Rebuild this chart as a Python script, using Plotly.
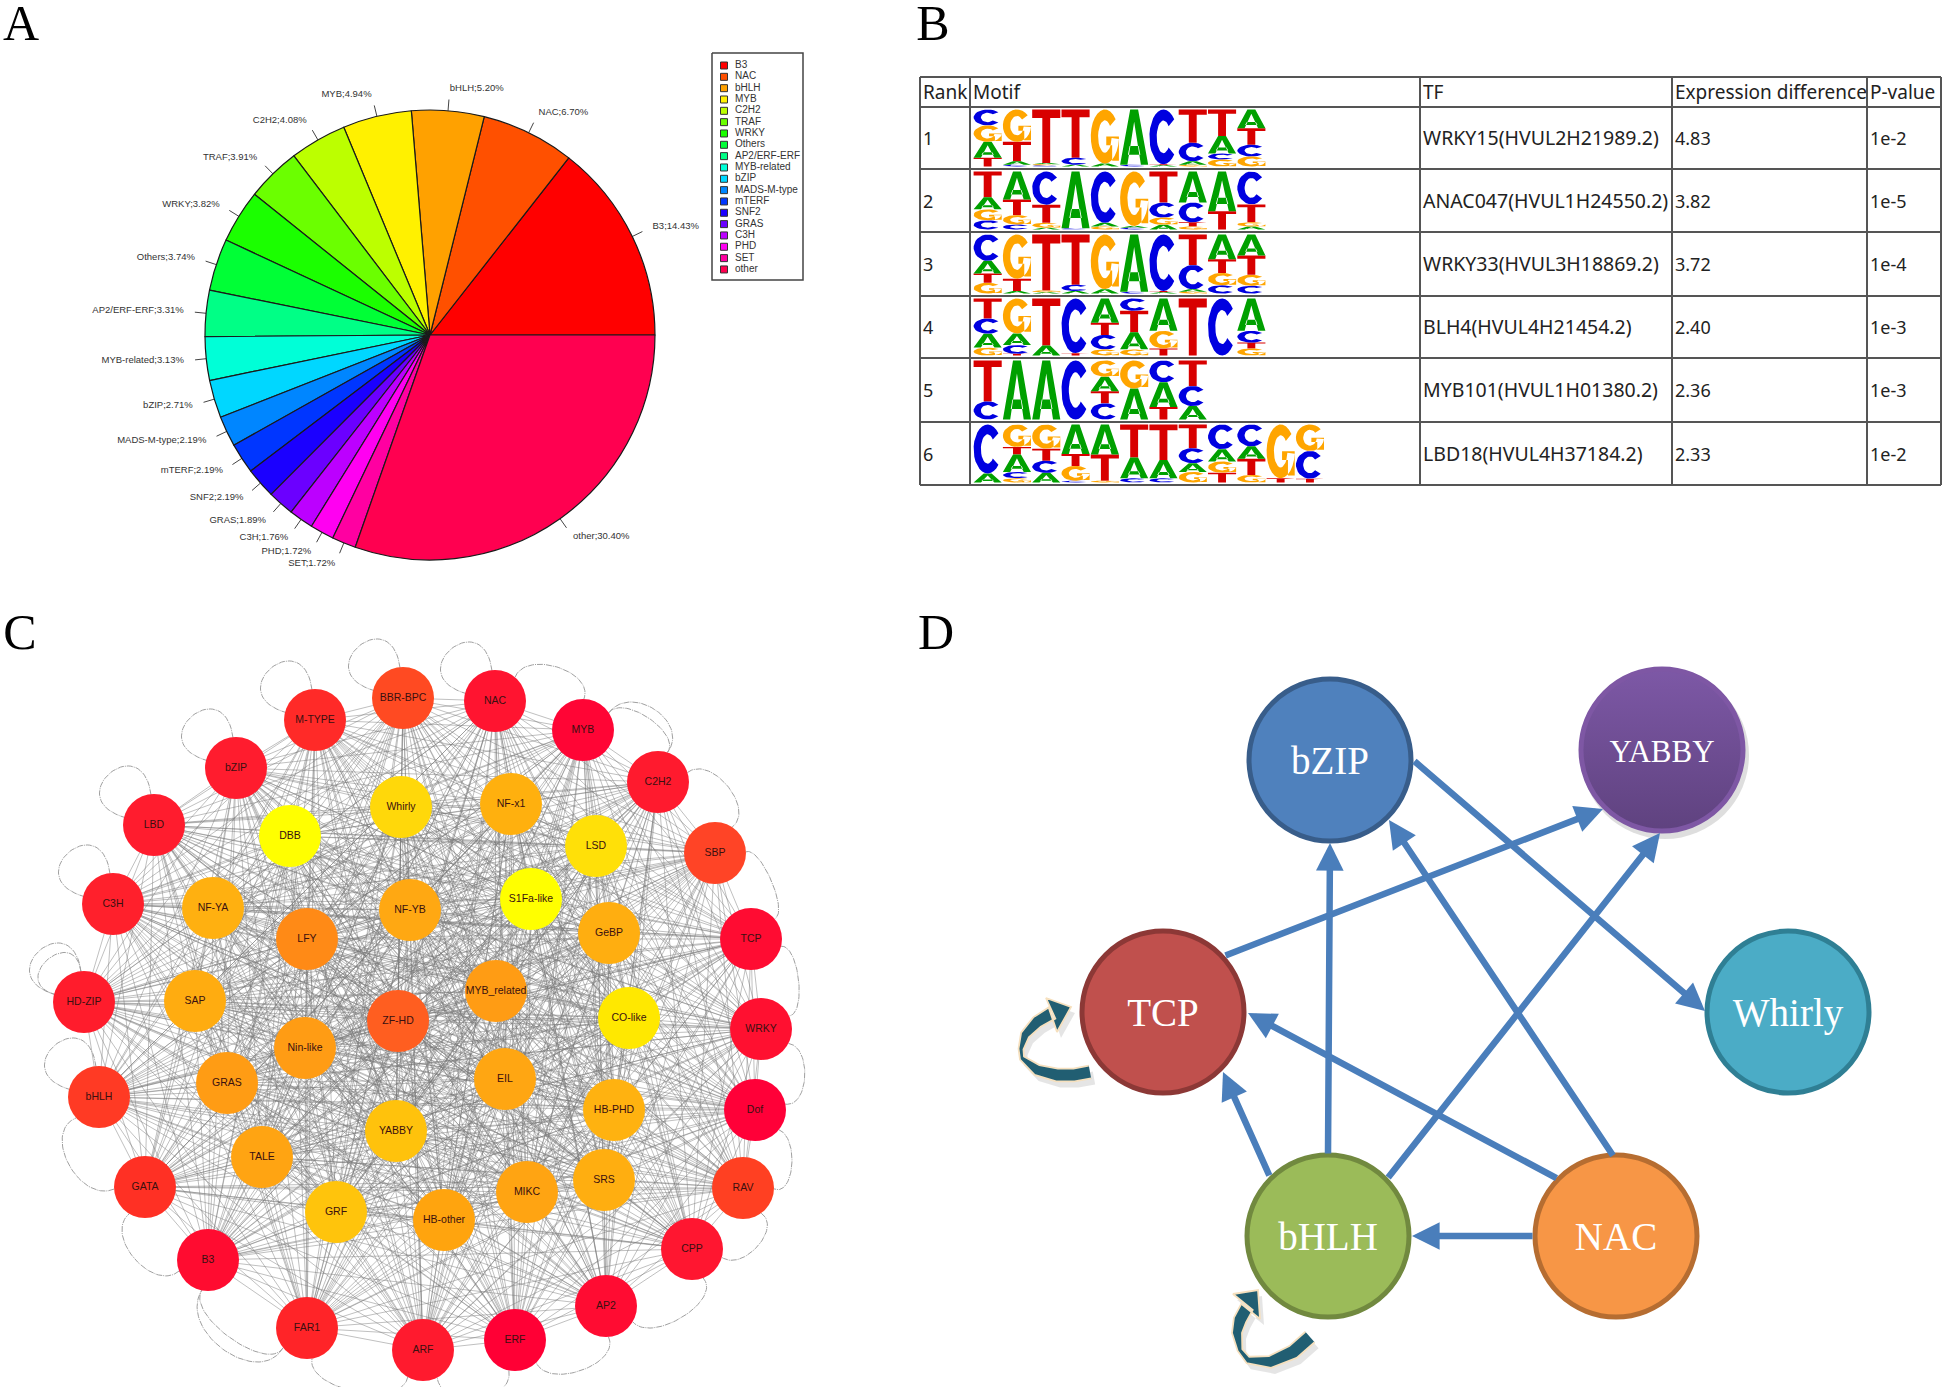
import numpy as np
import plotly.graph_objects as go

W, H = 1944, 1387

# ---------- panel letters ----------
panel_letters = ["A", "B", "C", "D"]
panel_x = [21, 933, 20, 936]
panel_y = [27, 27, 636, 636]

# ---------- panel A: pie ----------
pie_names = ["B3", "NAC", "bHLH", "MYB", "C2H2", "TRAF", "WRKY", "Others", "AP2/ERF-ERF", "MYB-related",
             "bZIP", "MADS-M-type", "mTERF", "SNF2", "GRAS", "C3H", "PHD", "SET", "other"]
pie_values = [14.43, 6.70, 5.20, 4.94, 4.08, 3.91, 3.82, 3.74, 3.31, 3.13,
              2.71, 2.19, 2.19, 2.19, 1.89, 1.76, 1.72, 1.72, 30.40]
pie_colors = ["#FF0000", "#FF5000", "#FFA100", "#FFF100", "#BCFF00", "#6BFF00", "#1BFF00", "#00FF36",
              "#00FF86", "#00FFD7", "#00D7FF", "#0086FF", "#0036FF", "#1B00FF", "#6B00FF", "#BC00FF",
              "#FF00F1", "#FF00A1", "#FF0050"]
pie_cx, pie_cy, pie_r = 430, 335, 225

# ---------- panel B: table ----------
table_header = ["Rank", "Motif", "TF", "Expression difference", "P-value"]
table_rank = ["1", "2", "3", "4", "5", "6"]
table_tf = ["WRKY15(HVUL2H21989.2)", "ANAC047(HVUL1H24550.2)", "WRKY33(HVUL3H18869.2)",
            "BLH4(HVUL4H21454.2)", "MYB101(HVUL1H01380.2)", "LBD18(HVUL4H37184.2)"]
table_diff = ["4.83", "3.82", "3.72", "2.40", "2.36", "2.33"]
table_p = ["1e-2", "1e-5", "1e-4", "1e-3", "1e-3", "1e-2"]
col_edges = [920, 970, 1420, 1672, 1867, 1941]
row_edges = [77, 107, 169, 232, 296, 358, 422, 485]

logo_rows = [
    [[("C", .27), ("G", .28), ("A", .27), ("T", .15)],
     [("G", .55), ("T", .33), ("A", .06), ("C", .03)],
     [("T", .93), ("A", .02), ("G", .02), ("C", .02)],
     [("T", .82), ("C", .12), ("A", .03)],
     [("G", .92), ("A", .05)],
     [("A", .93), ("C", .03)],
     [("C", .95), ("T", .02), ("A", .02)],
     [("T", .57), ("C", .32), ("A", .06), ("G", .03)],
     [("T", .45), ("A", .3), ("C", .1), ("G", .12)],
     [("A", .32), ("T", .28), ("C", .2), ("G", .17)]],
    [[("T", .42), ("A", .2), ("G", .18), ("C", .15)],
     [("A", .45), ("T", .25), ("G", .15), ("C", .08)],
     [("C", .55), ("T", .3), ("G", .08), ("A", .03)],
     [("A", .95), ("C", .02)],
     [("C", .85), ("A", .06), ("G", .05)],
     [("G", .92), ("A", .03), ("C", .03)],
     [("T", .52), ("C", .25), ("G", .12), ("A", .08)],
     [("A", .52), ("C", .33), ("T", .07), ("G", .05)],
     [("A", .65), ("T", .3)],
     [("C", .55), ("T", .3), ("G", .07), ("A", .05)]],
    [[("C", .42), ("A", .2), ("T", .15), ("G", .17)],
     [("G", .72), ("T", .2), ("A", .04)],
     [("T", .9), ("G", .03), ("A", .02)],
     [("T", .8), ("C", .1), ("A", .04)],
     [("G", .88), ("A", .07)],
     [("A", .92), ("C", .03)],
     [("C", .95), ("T", .02), ("A", .02)],
     [("T", .5), ("C", .4), ("A", .04), ("G", .03)],
     [("A", .36), ("T", .2), ("G", .18), ("C", .12)],
     [("A", .35), ("T", .32), ("G", .18), ("C", .13)]],
    [[("T", .33), ("C", .25), ("A", .23), ("G", .13)],
     [("G", .6), ("A", .2), ("C", .15), ("T", .03)],
     [("T", .8), ("A", .17)],
     [("C", .92), ("T", .04)],
     [("A", .4), ("T", .2), ("C", .24), ("G", .1)],
     [("C", .2), ("T", .35), ("A", .28), ("G", .1)],
     [("A", .55), ("G", .3), ("T", .12)],
     [("T", .97)],
     [("C", .97)],
     [("A", .55), ("C", .2), ("T", .1), ("G", .12)]],
    [[("T", .68), ("C", .3)],
     [("A", .97)],
     [("A", .97)],
     [("C", .97)],
     [("G", .27), ("A", .24), ("T", .2), ("C", .27)],
     [("G", .45), ("A", .5)],
     [("C", .35), ("A", .4), ("T", .2)],
     [("T", .42), ("C", .33), ("A", .22)]],
    [[("C", .82), ("A", .15)],
     [("G", .36), ("T", .12), ("A", .28), ("C", .1), ("G", .07)],
     [("G", .4), ("T", .2), ("C", .2), ("A", .16)],
     [("A", .5), ("T", .2), ("G", .25), ("C", .03)],
     [("A", .5), ("T", .44), ("G", .03)],
     [("T", .55), ("A", .35), ("C", .07)],
     [("T", .58), ("A", .3), ("C", .07)],
     [("T", .38), ("C", .24), ("A", .14), ("G", .17)],
     [("C", .4), ("A", .2), ("G", .18), ("T", .16)],
     [("C", .35), ("A", .2), ("T", .26), ("G", .12)],
     [("G", .88), ("T", .07)],
     [("G", .42), ("C", .44), ("T", .06)]],
]
logo_colors = {"A": "#00A000", "C": "#0000E0", "G": "#FFA500", "T": "#D80000"}
logo_x0, logo_col_w = 973, 29.3

# ---------- panel C: network ----------
outer_names = ["BBR-BPC", "NAC", "MYB", "C2H2", "SBP", "TCP", "WRKY", "Dof", "RAV", "CPP", "AP2", "ERF", "ARF",
               "FAR1", "B3", "GATA", "bHLH", "HD-ZIP", "C3H", "LBD", "bZIP", "M-TYPE"]
outer_x = [403, 495, 583, 658, 715, 751, 761, 755, 743, 692, 606, 515, 423, 307, 208, 145, 99, 84, 113, 154, 236, 315]
outer_y = [698, 701, 730, 782, 853, 939, 1029, 1110, 1188, 1249, 1306, 1340, 1350, 1328, 1260, 1187, 1097, 1002, 904, 825, 768, 720]
outer_colors = ["#FF4A22", "#FF1430", "#FF0535", "#FF1A2E", "#FF4426", "#FF0C32", "#FF1030", "#FF0038", "#FF4022",
                "#FF1630", "#FF0C32", "#FF0035", "#FF1A2E", "#FF2428", "#FF0C30", "#FF3024", "#FF3A24", "#FF1C2C",
                "#FF202C", "#FF1C2E", "#FF1C2E", "#FF2A28"]
inner_names = ["DBB", "Whirly", "NF-x1", "LSD", "S1Fa-like", "GeBP", "NF-YB", "NF-YA", "LFY", "MYB_related", "CO-like",
               "SAP", "ZF-HD", "Nin-like", "GRAS", "EIL", "HB-PHD", "YABBY", "TALE", "SRS", "MIKC", "HB-other", "GRF"]
inner_x = [290, 401, 511, 596, 531, 609, 410, 213, 307, 496, 629, 195, 398, 305, 227, 505, 614, 396, 262, 604, 527, 444, 336]
inner_y = [836, 807, 804, 846, 899, 933, 910, 908, 939, 991, 1018, 1001, 1021, 1048, 1083, 1079, 1110, 1131, 1157, 1180, 1192, 1220, 1212]
inner_colors = ["#FFFF00", "#FFD80A", "#FFB00E", "#FFE008", "#FFFF00", "#FFAE10", "#FFA812", "#FFB010", "#FF8A16",
                "#FF9C14", "#FFE800", "#FFAC10", "#FF5E20", "#FF9C14", "#FF9C14", "#FFA612", "#FFB210", "#FFC20C",
                "#FFA412", "#FFAE10", "#FFA412", "#FFA40E", "#FFC40C"]
net_cx, net_cy = 422, 1017
self_loops = [("BBR-BPC", 1.0), ("NAC", 1.0), ("M-TYPE", 1.0), ("bZIP", 1.0), ("LBD", 1.0), ("C3H", 1.0),
              ("HD-ZIP", 1.0), ("HD-ZIP", 0.72), ("bHLH", 1.0)]
neighbour_arcs = [("NAC", "MYB", 30), ("MYB", "C2H2", 38), ("MYB", "C2H2", 24), ("C2H2", "SBP", 30), ("SBP", "TCP", 16),
                  ("TCP", "WRKY", 18), ("WRKY", "Dof", 24), ("Dof", "RAV", 22), ("RAV", "CPP", 26), ("CPP", "AP2", 30),
                  ("AP2", "ERF", 30), ("ERF", "ARF", 34), ("ARF", "FAR1", 32), ("FAR1", "B3", 48), ("FAR1", "B3", 30),
                  ("B3", "GATA", 34), ("GATA", "bHLH", 38)]

# ---------- panel D: TF graph ----------
d_names = ["bZIP", "YABBY", "Whirly", "TCP", "bHLH", "NAC"]
d_x = [1330, 1662, 1788, 1163, 1328, 1616]
d_y = [760, 750, 1012, 1012, 1236, 1236]
d_fill = ["#4F81BD", "#7D58A6", "#4BACC6", "#C0504D", "#9BBB59", "#F79646"]
d_line = ["#385D8A", "#7E57A4", "#2F7F94", "#8C3836", "#71893F", "#B66D31"]
d_font = [39, 31, 39, 39, 39, 39]
arrow_from = [(1413, 760), (1224, 956), (1328, 1155), (1614, 1157), (1387, 1179), (1558, 1179), (1270, 1177), (1534, 1236)]
arrow_to = [(1705, 1011), (1603, 809), (1330, 843), (1389, 820), (1660, 833), (1248, 1013), (1223, 1072), (1412, 1236)]
curl_centre = [[(1090, 1072), (1074, 1075), (1057, 1075), (1037, 1070), (1022, 1058), (1021, 1049), (1025, 1035), (1037, 1022), (1052, 1013)],
               [(1310, 1337), (1293, 1352), (1270, 1362), (1248, 1360), (1240, 1350), (1237, 1333), (1240, 1320), (1247, 1307)]]
curl_width = [[13, 13, 13, 11, 5, 5, 9, 12, 13],
              [14, 14, 12, 7, 5, 10, 13, 13]]
curl_head = [[(1046, 998), (1071, 1007), (1057, 1032)],
             [(1233, 1294), (1258, 1290), (1260, 1319)]]

fig = go.Figure()


def txt(x, y, t, size, color, pos="middle center", family="Liberation Sans"):
    fig.add_trace(go.Scatter(x=x, y=y, text=t, mode="text", textposition=pos, hoverinfo="skip", showlegend=False,
                             textfont=dict(size=size, color=color, family=family), cliponaxis=False))


def poly_line(xs, ys, color, width, dash="solid"):
    fig.add_trace(go.Scatter(x=xs, y=ys, mode="lines", line=dict(color=color, width=width, dash=dash),
                             hoverinfo="skip", showlegend=False))


def fill_poly(xs, ys, fill, edge="rgba(0,0,0,0)", width=0):
    fig.add_trace(go.Scatter(x=xs, y=ys, mode="lines", fill="toself", fillcolor=fill,
                             line=dict(color=edge, width=width), hoverinfo="skip", showlegend=False))


# --- A ---
vals = np.array(pie_values)
fig.add_trace(go.Pie(labels=pie_names, values=pie_values, sort=False, direction="counterclockwise",
                     rotation=90 - 360 * vals[0] / vals.sum(),
                     textinfo="none", showlegend=False, hoverinfo="label+value",
                     marker=dict(colors=pie_colors, line=dict(color="#1a1a1a", width=1.2)),
                     domain=dict(x=[(pie_cx - pie_r) / W, (pie_cx + pie_r) / W],
                                 y=[1 - (pie_cy + pie_r) / H, 1 - (pie_cy - pie_r) / H])))
mid = (np.cumsum(vals) - vals / 2) / vals.sum() * 2 * np.pi
tx, ty = [], []
for a in mid:
    tx += [pie_cx + pie_r * np.cos(a), pie_cx + 1.05 * pie_r * np.cos(a), None]
    ty += [pie_cy - pie_r * np.sin(a), pie_cy - 1.05 * pie_r * np.sin(a), None]
poly_line(tx, ty, "#444444", 1)
lab = [f"{n};{v:.2f}%" for n, v in zip(pie_names, pie_values)]
for a, t in zip(mid, lab):
    right = np.cos(a) >= 0
    txt([pie_cx + 1.1 * pie_r * np.cos(a)], [pie_cy - 1.1 * pie_r * np.sin(a)], [t], 9.5, "#333333",
        "middle right" if right else "middle left")

# legend of A
leg_y = [65.5 + 11.33 * i for i in range(len(pie_names))]
poly_line([712, 803, 803, 712, 712], [53, 53, 280, 280, 53], "#444444", 1.5)
fig.add_trace(go.Scatter(x=[724] * len(pie_names), y=leg_y, mode="markers", hoverinfo="skip", showlegend=False,
                         marker=dict(symbol="square", size=7, color=pie_colors, line=dict(color="#333333", width=1))))
txt([735] * len(pie_names), leg_y, pie_names, 10, "#333333", "middle right")

# --- B ---
gx, gy = [], []
for x in col_edges:
    gx += [x, x, None]
    gy += [row_edges[0], row_edges[-1], None]
for y in row_edges:
    gx += [col_edges[0], col_edges[-1], None]
    gy += [y, y, None]
poly_line(gx, gy, "#555555", 2)

hy = (row_edges[0] + row_edges[1]) / 2 + 2.5
txt([c + 3 for c in col_edges[:5]], [hy] * 5, table_header, 19, "#222222", "middle right", "Noto Sans")
ry = [(row_edges[i + 1] + row_edges[i + 2]) / 2 + 2.5 for i in range(6)]
txt([col_edges[0] + 3] * 6, ry, table_rank, 18, "#222222", "middle right", "Noto Sans")
txt([col_edges[2] + 3] * 6, ry, table_tf, 19.5, "#222222", "middle right", "Noto Sans")
txt([col_edges[3] + 3] * 6, ry, table_diff, 18, "#222222", "middle right", "Noto Sans")
txt([col_edges[4] + 3] * 6, ry, table_p, 18, "#222222", "middle right", "Noto Sans")


def arc(a0, a1, n=24):
    a = np.radians(np.linspace(a0, a1, n))
    ox, oy = .5 + .5 * np.cos(a), .5 + .5 * np.sin(a)
    ix, iy = .5 + .24 * np.cos(a[::-1]), .5 + .3 * np.sin(a[::-1])
    return list(zip(np.r_[ox, ix], np.r_[oy, iy]))


glyphs = {
    "T": [[(0, 1), (1, 1), (1, .84), (.64, .84), (.64, 0), (.36, 0), (.36, .84), (0, .84)]],
    "A": [[(0, 0), (.36, 1), (.64, 1), (1, 0), (.74, 0), (.5, .78), (.26, 0)],
          [(.28, .18), (.72, .18), (.66, .34), (.34, .34)]],
    "C": [arc(40, 320)],
    "G": [arc(40, 355), [(.55, .5), (1, .5), (1, .05), (.76, .05), (.76, .34), (.55, .34)]],
}
poly = {k: ([], []) for k in glyphs}
for r, columns in enumerate(logo_rows):
    top = row_edges[r + 1] + 2.5
    height = row_edges[r + 2] - row_edges[r + 1] - 5
    for c, stack in enumerate(columns):
        total = sum(h for _, h in stack)
        y = top
        for letter, h in stack:
            hh = h / total * height
            for pg in glyphs[letter]:
                for u, v in pg:
                    poly[letter][0].append(logo_x0 + (c + .02 + .96 * u) * logo_col_w)
                    poly[letter][1].append(y + (1 - v) * hh)
                poly[letter][0].append(None)
                poly[letter][1].append(None)
            y += hh
for letter, (px, py) in poly.items():
    fill_poly(px, py, logo_colors[letter])

# --- C ---
names = outer_names + inner_names
nx = outer_x + inner_x
ny = outer_y + inner_y
ex, ey = [], []
for i in range(len(nx)):
    for j in range(i + 1, len(nx)):
        ex += [nx[i], nx[j], None]
        ey += [ny[i], ny[j], None]
poly_line(ex, ey, "rgba(118,118,118,0.55)", 0.85)


def bez(p0, p1, p2, p3):
    t = np.linspace(0, 1, 40)[:, None]
    return (1 - t) ** 3 * p0 + 3 * (1 - t) ** 2 * t * p1 + 3 * (1 - t) * t ** 2 * p2 + t ** 3 * p3


lx, ly = [], []
u = np.array([-0.65, -0.76])
v = np.array([0.76, -0.65])
for name, scale in self_loops:
    i = names.index(name)
    c = np.array([nx[i], ny[i]], dtype=float)
    p0 = c + 30 * (u + .7 * v) / np.linalg.norm(u + .7 * v)
    p3 = c + 30 * (u - .7 * v) / np.linalg.norm(u - .7 * v)
    b = bez(p0, p0 + (u * 58 + v * 38) * scale, p3 + (u * 58 - v * 38) * scale, p3)
    lx += list(b[:, 0]) + [None]
    ly += list(b[:, 1]) + [None]
for n0, n1, h in neighbour_arcs:
    i, j = names.index(n0), names.index(n1)
    a = np.array([nx[i], ny[i]], dtype=float)
    d = np.array([nx[j], ny[j]], dtype=float)
    out = (a + d) / 2 - np.array([net_cx, net_cy])
    out /= np.linalg.norm(out)
    s = (d - a) / np.linalg.norm(d - a)
    p0 = a + 31 * (out + .35 * s) / np.linalg.norm(out + .35 * s)
    p3 = d + 31 * (out - .35 * s) / np.linalg.norm(out - .35 * s)
    b = bez(p0, p0 + out * h, p3 + out * h, p3)
    lx += list(b[:, 0]) + [None]
    ly += list(b[:, 1]) + [None]
poly_line(lx, ly, "#a0a0a0", 1, "6px,1px,1px,1px")

fig.add_trace(go.Scatter(x=nx, y=ny, mode="markers+text", text=names, textposition="middle center", hoverinfo="skip",
                         showlegend=False, textfont=dict(size=10.5, color="#3a1010", family="Liberation Sans"),
                         marker=dict(size=62, color=outer_colors + inner_colors, line=dict(width=0))))

# --- D ---
annotations = []
for (x0, y0), (x1, y1) in zip(arrow_from, arrow_to):
    annotations.append(dict(x=x1, y=y1, ax=x0, ay=y0, xref="x", yref="y", axref="x", ayref="y", text="",
                            showarrow=True, arrowhead=2, arrowsize=0.85, arrowwidth=6.5, arrowcolor="#4A7EBB"))

fig.add_trace(go.Scatter(x=[d_x[1] + 3], y=[d_y[1] + 5], mode="markers", hoverinfo="skip", showlegend=False,
                         marker=dict(size=168, color="rgba(0,0,0,0.13)", line=dict(width=0))))
for i, n in enumerate(d_names):
    mk = dict(size=162, color=d_fill[i], line=dict(color=d_line[i], width=5))
    if n == "YABBY":
        mk["gradient"] = dict(type="vertical", color="#5F427F")
    fig.add_trace(go.Scatter(x=[d_x[i]], y=[d_y[i]], mode="markers", marker=mk, hoverinfo="skip", showlegend=False))
    txt([d_x[i]], [d_y[i] + 4], [n], d_font[i], "white", "middle center", "Liberation Serif")

for centre, width, head in zip(curl_centre, curl_width, curl_head):
    p = np.array(centre, dtype=float)
    w = np.array(width, dtype=float)
    g = np.gradient(p, axis=0)
    g /= np.linalg.norm(g, axis=1)[:, None]
    nrm = np.c_[-g[:, 1], g[:, 0]]
    a = p + nrm * w[:, None] / 2
    b = p - nrm * w[:, None] / 2
    hd = np.array(head, dtype=float)
    # ribbon then arrow head, joined into one outline
    ox = np.r_[a[:, 0], hd[0, 0], hd[1, 0], hd[2, 0], b[::-1, 0]]
    oy = np.r_[a[:, 1], hd[0, 1], hd[1, 1], hd[2, 1], b[::-1, 1]]
    fill_poly(list(ox + 4), list(oy + 6), "rgba(0,0,0,0.10)")
    fill_poly(list(ox), list(oy), "#215E72", "#F6E0BE", 1.8)

# letters
txt(panel_x, panel_y, panel_letters, 50, "#000000", "middle center", "Liberation Serif")

fig.update_layout(width=W, height=H, margin=dict(l=0, r=0, t=0, b=0), paper_bgcolor="white", plot_bgcolor="white",
                  showlegend=False, annotations=annotations,
                  xaxis=dict(range=[0, W], visible=False, domain=[0, 1], fixedrange=True),
                  yaxis=dict(range=[H, 0], visible=False, domain=[0, 1], fixedrange=True))
fig.write_html("out.html", config=dict(displayModeBar=False),
               post_script="document.body.style.margin='0';document.body.style.overflow='hidden';")
